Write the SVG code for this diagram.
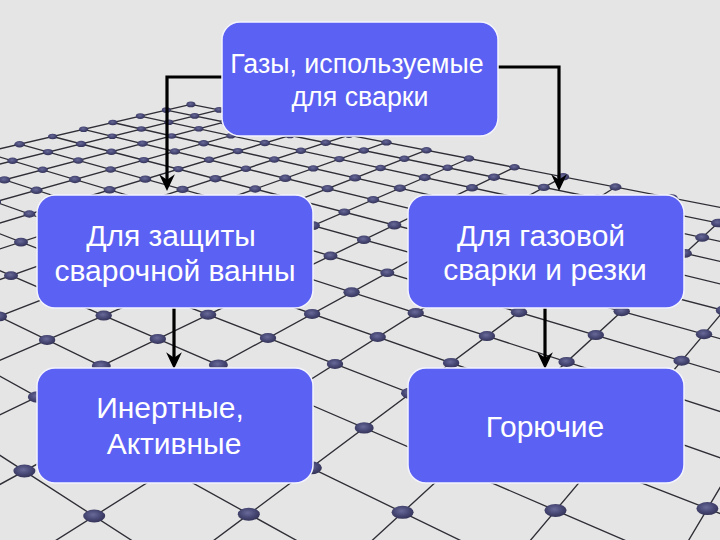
<svg xmlns="http://www.w3.org/2000/svg" xmlns:xlink="http://www.w3.org/1999/xlink" width="720" height="540" viewBox="0 0 720 540">
<style>
.gl{stroke:#2e2e36;stroke-width:1.35;fill:none}
.box{fill:#5B61F2;stroke:#f4f4ff;stroke-width:1.5}
.t{font-family:"Liberation Sans",Arial,sans-serif;fill:#ffffff;text-anchor:middle}
.t26{font-size:26.8px}
.t30{font-size:30px}
.con{stroke:#000;stroke-width:3.2;fill:none;marker-end:url(#arr)}
</style>
<defs>
<radialGradient id="dg" cx="45%" cy="40%" r="60%">
<stop offset="0" stop-color="#6a6a9a"/>
<stop offset="0.6" stop-color="#474774"/>
<stop offset="1" stop-color="#333358"/>
</radialGradient>
<ellipse id="dA" rx="11" ry="6.5" fill="url(#dg)"/>
<ellipse id="dB" rx="9.5" ry="5.7" fill="url(#dg)"/>
<ellipse id="dC" rx="8.2" ry="5" fill="url(#dg)"/>
<ellipse id="dD" rx="7" ry="4.3" fill="url(#dg)"/>
<ellipse id="dE" rx="6" ry="3.7" fill="url(#dg)"/>
<ellipse id="dF" rx="5.2" ry="3.2" fill="url(#dg)"/>
<ellipse id="dG" rx="4.5" ry="2.8" fill="url(#dg)"/>
<marker id="arr" markerUnits="userSpaceOnUse" markerWidth="18" markerHeight="18" viewBox="0 0 16 16" refX="7" refY="8" orient="auto">
<path d="M0,1 L15,8 L0,15 L5,8 Z" fill="#000"/>
</marker>
</defs>
<rect x="0" y="0" width="720" height="540" fill="#E5E5E5"/>
<g id="grid">
<g id="lines">
<path class="gl" d="M190.9,104.4L-50,160.4M219.1,109.9L-50,176.3M248.9,115.7L-50,194.2M280.4,121.8L-50,214.6M313.7,128.3L-50,238.1M349,135.1L-50,265.2M386.5,142.4L-50,297.2M426.5,150.2L-50,335.5M469,158.5L-50,381.7M514.5,167.3L-50,438.9M563.2,176.8L-50,511.7M615.5,187L-6.9,580M671.7,197.9L160.8,580M732.5,209.7L329,580M798.2,222.5L497,580M869.6,236.4L665,580"/>
<path class="gl" d="M190.9,104.4L780,219M166.3,110.1L780,235.7M140.3,116.1L780,254.3M112.8,122.5L780,275.1M83.6,129.3L780,298.5M52.6,136.5L780,325M19.6,144.2L780,355.3M-15.7,152.4L780,390.3M-53.4,161.1L780,430.9M-93.8,170.5L780,479M-137.2,180.6L780,536.7M-184,191.5L717,580M-234.6,203.3L542,580M-289.5,216L368,580M-349.1,229.9L193,580M-414.2,245L19,580"/>
</g>
<g id="dots">
<use href="#dG" x="190.9" y="104.4"/><use href="#dG" x="219.1" y="109.9"/><use href="#dG" x="349" y="135.1"/><use href="#dF" x="386.5" y="142.4"/><use href="#dF" x="426.5" y="150.2"/><use href="#dF" x="469" y="158.5"/><use href="#dF" x="514.5" y="167.3"/><use href="#dE" x="563.2" y="176.8"/><use href="#dE" x="615.5" y="187"/><use href="#dE" x="671.7" y="197.9"/>
<use href="#dG" x="166.3" y="110.1"/><use href="#dG" x="194.7" y="115.9"/><use href="#dG" x="224.7" y="122"/><use href="#dG" x="290" y="135.4"/><use href="#dF" x="325.7" y="142.7"/><use href="#dF" x="363.8" y="150.5"/><use href="#dF" x="404.3" y="158.8"/><use href="#dF" x="447.6" y="167.7"/><use href="#dE" x="494" y="177.2"/><use href="#dE" x="543.8" y="187.4"/><use href="#dE" x="597.4" y="198.3"/><use href="#dD" x="718" y="223"/>
<use href="#dG" x="140.3" y="116.1"/><use href="#dG" x="168.8" y="122.3"/><use href="#dG" x="198.9" y="128.8"/><use href="#dG" x="230.9" y="135.7"/><use href="#dF" x="264.8" y="143"/><use href="#dF" x="300.9" y="150.8"/><use href="#dF" x="339.4" y="159.1"/><use href="#dF" x="380.6" y="168"/><use href="#dE" x="424.7" y="177.5"/><use href="#dE" x="472" y="187.8"/><use href="#dD" x="702.2" y="237.5"/>
<use href="#dG" x="112.8" y="122.5"/><use href="#dG" x="141.3" y="129"/><use href="#dG" x="171.6" y="136"/><use href="#dF" x="203.7" y="143.3"/><use href="#dF" x="237.9" y="151.1"/><use href="#dF" x="274.3" y="159.5"/><use href="#dF" x="313.3" y="168.4"/><use href="#dE" x="355.1" y="177.9"/><use href="#dE" x="399.9" y="188.2"/><use href="#dD" x="684.9" y="253.4"/>
<use href="#dG" x="83.6" y="129.3"/><use href="#dG" x="112.2" y="136.2"/><use href="#dF" x="142.5" y="143.6"/><use href="#dF" x="174.8" y="151.4"/><use href="#dF" x="209.1" y="159.8"/><use href="#dF" x="245.9" y="168.7"/><use href="#dE" x="285.3" y="178.3"/><use href="#dE" x="327.6" y="188.6"/><use href="#dE" x="373.2" y="199.7"/>
<use href="#dG" x="52.6" y="136.5"/><use href="#dF" x="81.1" y="143.9"/><use href="#dF" x="111.4" y="151.7"/><use href="#dF" x="143.8" y="160.1"/><use href="#dF" x="178.3" y="169.1"/><use href="#dE" x="215.4" y="178.7"/><use href="#dE" x="255.2" y="189"/><use href="#dE" x="344.3" y="212.1"/><use href="#dD" x="394.4" y="225.1"/><use href="#dC" x="724" y="310.5"/>
<use href="#dF" x="19.6" y="144.2"/><use href="#dF" x="48" y="152.1"/><use href="#dF" x="78.3" y="160.5"/><use href="#dF" x="110.6" y="169.5"/><use href="#dE" x="145.3" y="179.1"/><use href="#dE" x="182.5" y="189.4"/><use href="#dD" x="312.9" y="225.6"/><use href="#dD" x="363.9" y="239.8"/><use href="#dC" x="621.7" y="311.3"/><use href="#dC" x="704" y="334.2"/>
<use href="#dF" x="12.5" y="160.8"/><use href="#dF" x="42.7" y="169.8"/><use href="#dE" x="75" y="179.5"/><use href="#dE" x="109.6" y="189.8"/><use href="#dD" x="330.5" y="255.9"/><use href="#dD" x="387.3" y="272.8"/><use href="#dC" x="519" y="312.2"/><use href="#dC" x="595.8" y="335.1"/><use href="#dC" x="681.6" y="360.8"/>
<use href="#dE" x="4.4" y="179.9"/><use href="#dE" x="36.5" y="190.3"/><use href="#dC" x="351.6" y="292.3"/><use href="#dC" x="415.7" y="313"/><use href="#dC" x="486.9" y="336.1"/><use href="#dC" x="566.6" y="361.9"/>
<use href="#dE" x="-4.9" y="201.9"/><use href="#dE" x="29.4" y="214"/><use href="#dC" x="312.1" y="313.9"/><use href="#dC" x="377.7" y="337"/><use href="#dC" x="451.1" y="362.9"/>
<use href="#dD" x="21" y="242.1"/><use href="#dC" x="208.1" y="314.7"/><use href="#dC" x="268" y="338"/><use href="#dC" x="335" y="364"/><use href="#dB" x="410.5" y="393.3"/><use href="#dA" x="707.4" y="508.6"/>
<use href="#dD" x="11" y="275.6"/><use href="#dC" x="103.7" y="315.6"/><use href="#dC" x="157.8" y="338.9"/><use href="#dB" x="218.4" y="365.1"/><use href="#dB" x="364.2" y="427.9"/><use href="#dA" x="555.5" y="510.4"/>
<use href="#dC" x="-1.2" y="316.4"/><use href="#dC" x="47.1" y="339.9"/><use href="#dB" x="101.3" y="366.1"/><use href="#dA" x="310.9" y="467.8"/><use href="#dA" x="402.6" y="512.3"/>
<use href="#dB" x="37.3" y="397"/><use href="#dA" x="248.8" y="514.2"/>
<use href="#dA" x="24.4" y="471"/><use href="#dA" x="94.2" y="516"/>
</g>
</g>
<g id="connectors">
<path class="con" d="M222,77 H167 V182"/>
<path class="con" d="M498,67 H559 V182"/>
<path class="con" d="M174,308 V360"/>
<path class="con" d="M545,308 V360"/>
</g>
<g id="node-root">
<rect class="box" x="222" y="22" width="276" height="114" rx="18"/>
<text class="t t26" x="357" y="73">Газы, используемые</text>
<text class="t t26" x="360" y="106">для сварки</text>
</g>
<g id="node-protect">
<rect class="box" x="37" y="195" width="276" height="113" rx="18"/>
<text class="t t30" x="171" y="246">Для защиты</text>
<text class="t t30" x="175" y="281">сварочной ванны</text>
</g>
<g id="node-gas">
<rect class="box" x="408" y="195" width="276" height="113" rx="18"/>
<text class="t t30" x="541" y="246">Для газовой</text>
<text class="t t30" x="545" y="280">сварки и резки</text>
</g>
<g id="node-inert">
<rect class="box" x="37" y="368" width="276" height="115" rx="18"/>
<text class="t t30" x="170" y="418">Инертные,</text>
<text class="t t30" x="174" y="454">Активные</text>
</g>
<g id="node-fuel">
<rect class="box" x="408" y="368" width="276" height="115" rx="18"/>
<text class="t t30" x="545" y="437">Горючие</text>
</g>
</svg>
